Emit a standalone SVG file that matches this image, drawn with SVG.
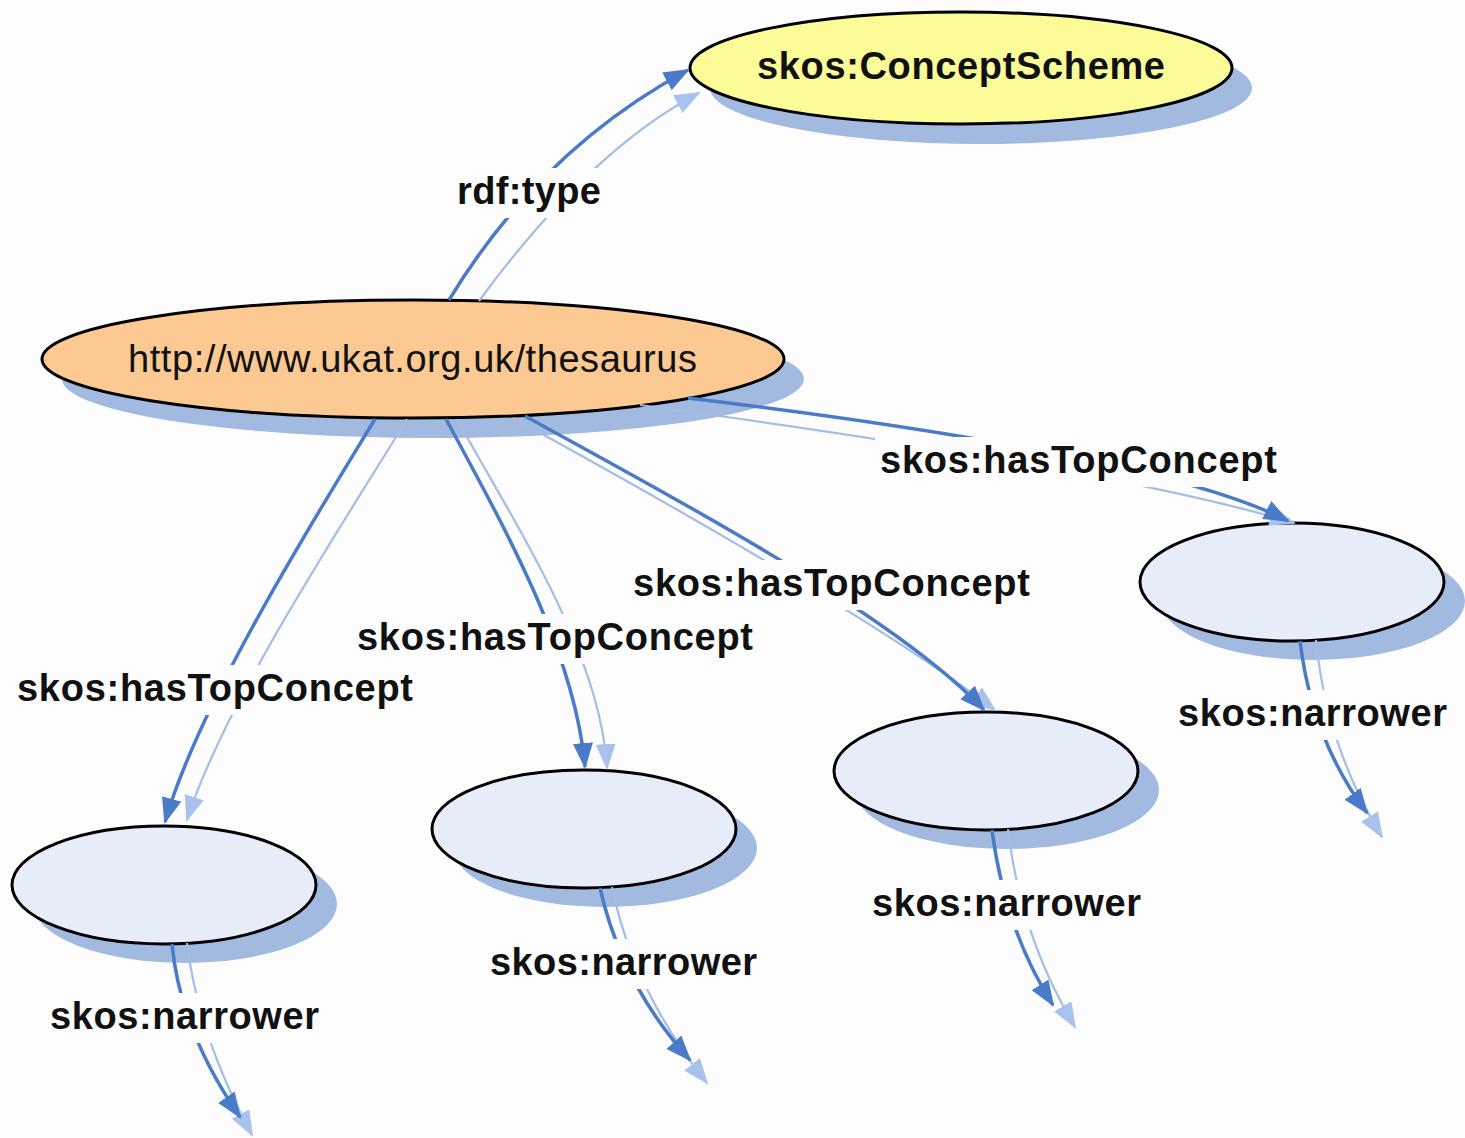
<svg xmlns="http://www.w3.org/2000/svg" width="1465" height="1138" viewBox="0 0 1465 1138">
<style>
.shadow{fill:#a2badf}
.node{stroke:#000;stroke-width:3}
.scheme{fill:#fbfb98}
.root{fill:#fcc993}
.concept{fill:#e6edf8}
.dark{fill:none;stroke:#4a7bc8;stroke-width:3.5;marker-end:url(#ad)}
.light{fill:none;stroke:#a3bde8;stroke-width:2.2;marker-end:url(#al)}
text{font-family:"Liberation Sans",Arial,Helvetica,sans-serif;font-size:38px;fill:#111}
.lbl,.b{font-weight:bold}
</style>
<defs>
<marker id="ad" markerUnits="userSpaceOnUse" markerWidth="28" markerHeight="22" refX="24" refY="10" orient="auto" viewBox="0 0 28 22">
<path d="M0,0 L26,10 L0,20 Z" fill="#4a7bc8"/>
</marker>
<marker id="al" markerUnits="userSpaceOnUse" markerWidth="28" markerHeight="22" refX="24" refY="10" orient="auto" viewBox="0 0 28 22">
<path d="M0,0 L26,10 L0,20 Z" fill="#a9c2ec"/>
</marker>
<mask id="gaps" maskUnits="userSpaceOnUse" x="0" y="0" width="1465" height="1138">
<rect x="0" y="0" width="1465" height="1138" fill="#fff"/>
<rect x="452" y="168" width="154" height="50" fill="#000"/>
<rect x="12" y="665" width="406" height="50" fill="#000"/>
<rect x="352" y="614" width="406" height="50" fill="#000"/>
<rect x="628" y="560" width="407" height="50" fill="#000"/>
<rect x="875" y="437" width="407" height="50" fill="#000"/>
<rect x="45" y="993" width="279" height="50" fill="#000"/>
<rect x="485" y="939" width="277" height="50" fill="#000"/>
<rect x="867" y="880" width="279" height="50" fill="#000"/>
<rect x="1173" y="690" width="279" height="50" fill="#000"/>
</mask>
</defs>
<rect x="0" y="0" width="1465" height="1138" fill="#fdfdfd"/>

<g id="node-conceptscheme">
<ellipse class="shadow" cx="981" cy="88" rx="271" ry="56"/>
<ellipse class="node scheme" cx="961" cy="68" rx="271" ry="56"/>
<text class="b" x="757" y="79" textLength="408">skos:ConceptScheme</text>
</g>
<g id="node-thesaurus">
<ellipse class="shadow" cx="433" cy="379" rx="371" ry="59"/>
<ellipse class="node root" cx="413" cy="359" rx="371" ry="59"/>
<text x="128" y="372" textLength="569">http://www.ukat.org.uk/thesaurus</text>
</g>
<g id="node-concept1">
<ellipse class="shadow" cx="185" cy="904" rx="152" ry="59"/>
<ellipse class="node concept" cx="164" cy="885" rx="152" ry="59"/>
</g>
<g id="node-concept2">
<ellipse class="shadow" cx="605" cy="848" rx="152" ry="59"/>
<ellipse class="node concept" cx="584" cy="829" rx="152" ry="59"/>
</g>
<g id="node-concept3">
<ellipse class="shadow" cx="1007" cy="790" rx="152" ry="59"/>
<ellipse class="node concept" cx="986" cy="771" rx="152" ry="59"/>
</g>
<g id="node-concept4">
<ellipse class="shadow" cx="1313" cy="601" rx="152" ry="59"/>
<ellipse class="node concept" cx="1292" cy="582" rx="152" ry="59"/>
</g>

<g id="connectors">
<g mask="url(#gaps)">
<path class="light" d="M479,301 Q590,150 699,93"/>
<path class="dark" d="M449,300 Q540,150 688,70"/>
<path class="light" d="M407,419 C352,510 225,700 187,820"/>
<path class="dark" d="M375,419 C320,510 200,700 165,822"/>
<path class="light" d="M457,419 C512,520 600,650 607,768"/>
<path class="dark" d="M446,419 C500,520 575,650 585,767"/>
<path class="light" d="M513,418 C690,515 890,630 995,710"/>
<path class="dark" d="M525,416 C700,512 900,620 984,710"/>
<path class="light" d="M640,405 Q1120,470 1294,523"/>
<path class="dark" d="M688,398 Q1160,455 1288,521"/>
<path class="light" d="M187,943 Q198,1035 252,1135"/>
<path class="dark" d="M172,944 Q180,1030 240,1117"/>
<path class="light" d="M612,887 Q633,990 707,1083"/>
<path class="dark" d="M600,888 Q622,985 690,1060"/>
<path class="light" d="M1008,829 Q1020,935 1075,1027"/>
<path class="dark" d="M992,830 Q1005,930 1053,1005"/>
<path class="light" d="M1316,640 Q1326,745 1382,837"/>
<path class="dark" d="M1300,641 Q1312,740 1367,813"/>
</g>
<text class="lbl" x="457" y="204" textLength="144">rdf:type</text>
<text class="lbl" x="17" y="701" textLength="396">skos:hasTopConcept</text>
<text class="lbl" x="357" y="650" textLength="396">skos:hasTopConcept</text>
<text class="lbl" x="633" y="596" textLength="397">skos:hasTopConcept</text>
<text class="lbl" x="880" y="473" textLength="397">skos:hasTopConcept</text>
<text class="lbl" x="50" y="1029" textLength="269">skos:narrower</text>
<text class="lbl" x="490" y="975" textLength="267">skos:narrower</text>
<text class="lbl" x="872" y="916" textLength="269">skos:narrower</text>
<text class="lbl" x="1178" y="726" textLength="269">skos:narrower</text>
</g>
</svg>
